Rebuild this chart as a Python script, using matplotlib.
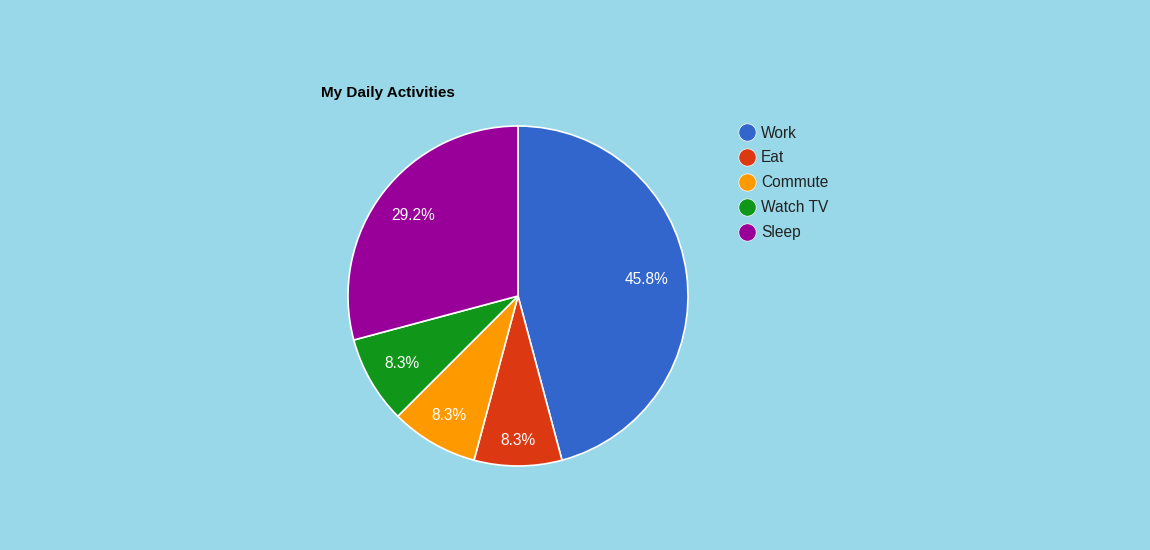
import matplotlib
matplotlib.use("Agg")
import numpy as np
import matplotlib.pyplot as plt
from matplotlib.lines import Line2D

categories = ["Work", "Eat", "Commute", "Watch TV", "Sleep"]
hours = [11, 2, 2, 2, 7]
colors = ["#3366cc", "#dc3912", "#ff9900", "#109618", "#990099"]
title = "My Daily Activities"

BG = "#99d8e8"
W, H = 1150, 550
fig = plt.figure(figsize=(W / 100, H / 100), dpi=100, facecolor=BG)
ax = fig.add_axes([0, 0, 1, 1])

cx, cy, r = 518, H - 296, 170
wedges, texts, autotexts = ax.pie(
    hours, colors=colors, startangle=90, counterclock=False,
    center=(cx, cy), radius=r, autopct="%1.1f%%", pctdistance=0.79,
    wedgeprops=dict(edgecolor="white", linewidth=1.2),
    textprops=dict(color="white", fontsize=11.2, family="Liberation Sans"),
    frame=True,
)
ax.set_xlim(0, W)
ax.set_ylim(0, H)
ax.set_aspect("equal")
ax.axis("off")

# label radial placement (fraction of radius), per slice
label_dist = [0.765, 0.85, 0.815, 0.79, 0.78]
for w, t, d in zip(wedges, autotexts, label_dist):
    ang = np.deg2rad((w.theta1 + w.theta2) / 2)
    t.set_position((cx + d * r * np.cos(ang), cy + d * r * np.sin(ang)))

fig.text(321 / W, 1 - 93 / H, title, fontsize=11, fontweight="bold",
         family="Liberation Sans", color="black", va="center", ha="left")

handles = [Line2D([], [], marker="o", linestyle="none", markersize=12.5,
                  markerfacecolor=c, markeredgecolor="white", markeredgewidth=0.5)
           for c in colors]
leg = fig.legend(handles, categories, loc="upper left",
                 bbox_to_anchor=(740 / W, 1 - 125.5 / H), frameon=False,
                 prop=dict(family="Liberation Sans", size=11.2),
                 labelspacing=0.64, handlelength=0.95, handletextpad=0.4,
                 borderpad=0, borderaxespad=0)
for t in leg.get_texts():
    t.set_color("#222222")

fig.savefig("out.png", dpi=100, facecolor=BG)
